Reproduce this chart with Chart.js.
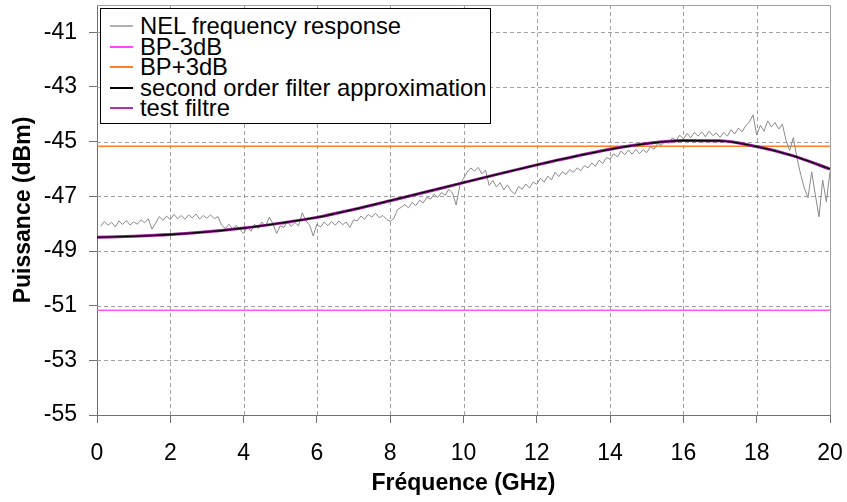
<!DOCTYPE html>
<html>
<head>
<meta charset="utf-8">
<script src="https://cdn.jsdelivr.net/npm/chart.js@4.4.1/dist/chart.umd.min.js"></script>
<style>
  html, body { margin:0; padding:0; background:#fff; overflow:hidden; }
  #wrap { position:relative; width:847px; height:502px; }
  canvas { display:block; }
  #legend { position:absolute; left:100px; top:8px; width:391px; height:116px; border:1px solid #000; background:#fff;
    font-family:"Liberation Sans", Arial, sans-serif; font-size:23.8px; color:#000; box-sizing:border-box; }
  .item { position:absolute; left:0; height:24px; line-height:24px; white-space:nowrap; }
  .item .sw { position:absolute; left:9px; top:11px; width:23px; height:2px; }
  .item .tx { position:absolute; left:39px; top:0; }
</style>
</head>
<body>
<div id="wrap">
  <canvas id="c" width="847" height="502"></canvas>
  <div id="legend"></div>
</div>
<script>
// ---- data ----
const xTickValues = [0, 2, 4, 6, 8, 10, 12, 14, 16, 18, 20];
const yTickValues = [-55, -53, -51, -49, -47, -45, -43, -41];

const nelStart = 0.1;   // GHz, first sample
const nelStep = 0.1;    // GHz between samples
const nelValues = [
  -48.10, -47.92, -48.06, -47.95, -48.12, -47.90, -48.03, -47.88, -48.05, -47.93,
  -48.02, -47.86, -47.97, -47.82, -48.20, -47.98, -47.74, -47.88, -47.72, -47.85,
  -47.66, -47.82, -47.70, -47.84, -47.68, -47.79, -47.65, -47.83, -47.70, -47.80,
  -47.68, -47.82, -47.74, -48.05, -48.18, -48.02, -48.20, -48.06, -48.22, -48.36,
  -48.12, -48.28, -48.02, -48.18, -47.94, -48.10, -47.76, -48.00, -48.36, -48.08,
  -48.14, -47.92, -48.10, -47.96, -48.08, -47.60, -47.90, -48.05, -48.45, -48.02,
  -48.12, -47.94, -48.08, -47.92, -48.06, -47.90, -48.04, -47.94, -48.14, -47.86,
  -47.90, -47.72, -47.84, -47.66, -47.76, -47.62, -47.78, -47.70, -47.84, -47.92,
  -47.80, -47.48, -47.40, -47.30, -47.42, -47.22, -47.34, -47.14, -47.24, -47.04,
  -47.10, -46.92, -47.04, -46.86, -46.96, -46.74, -46.88, -47.32, -46.60, -46.35,
  -46.12, -45.96, -46.08, -45.94, -46.18, -46.04, -46.60, -46.42, -46.66, -46.50,
  -46.76, -46.58, -46.80, -46.92, -46.64, -46.74, -46.55, -46.70, -46.48, -46.56,
  -46.34, -46.48, -46.26, -46.40, -46.12, -46.28, -46.10, -46.20, -46.02, -46.12,
  -45.96, -46.06, -45.88, -45.96, -45.78, -45.90, -45.68, -45.80, -45.58, -45.64,
  -45.44, -45.56, -45.34, -45.48, -45.30, -45.46, -45.28, -45.44, -45.30, -45.40,
  -45.18, -45.28, -45.06, -45.14, -44.94, -45.06, -44.86, -44.96, -44.76, -44.90,
  -44.70, -44.86, -44.66, -44.80, -44.64, -44.82, -44.62, -44.78, -44.68, -44.84,
  -44.66, -44.80, -44.56, -44.72, -44.50, -44.64, -44.42, -44.28, -44.02, -44.76,
  -44.40, -44.62, -44.24, -44.46, -44.30, -44.54, -44.36, -44.95, -45.32, -44.85,
  -45.60, -46.20, -46.70, -47.05, -46.10, -46.95, -47.75, -46.40, -47.20, -46.10
];

const fitFreq = [0, 1, 2, 3, 4, 5, 6, 7, 8, 9, 10, 11, 12, 13, 14, 15, 16, 17, 18, 19, 20];
const fitValues = [-48.50, -48.46, -48.40, -48.30, -48.16, -47.98, -47.77, -47.48, -47.16, -46.83,
  -46.50, -46.17, -45.85, -45.55, -45.28, -45.07, -44.96, -44.97, -45.18, -45.52, -46.00];
const testValues = [-48.50, -48.46, -48.40, -48.30, -48.16, -47.98, -47.77, -47.48, -47.16, -46.83,
  -46.50, -46.17, -45.85, -45.55, -45.28, -45.07, -44.96, -44.97, -45.18, -45.52, -46.00];

const bandFreq = [0, 20];
const bpMinusValues = [-51.17, -51.17];
const bpPlusValues = [-45.17, -45.17];

const seriesNames = ['NEL frequency response', 'BP-3dB', 'BP+3dB', 'second order filter approximation', 'test filtre'];

// ---- build ----
const FONT = '"Liberation Sans", Arial, sans-serif';
const toXY = (xs, ys) => ys.map((y, i) => ({ x: xs[i], y }));
const nelPts = nelValues.map((y, i) => ({ x: +(nelStart + i * nelStep).toFixed(2), y }));

const legendColors = ['#b0b0b0', '#ff44ff', '#ff7f27', '#000000', '#b030b0'];

const datasets = [
  { label: seriesNames[0], data: nelPts, borderColor: '#8a8a8a', borderWidth: 1, order: 3 },
  { label: seriesNames[1], data: toXY(bandFreq, bpMinusValues), borderColor: '#ff55ff', borderWidth: 1.5, order: 4 },
  { label: seriesNames[2], data: toXY(bandFreq, bpPlusValues), borderColor: '#ff7f27', borderWidth: 1.5, order: 4 },
  { label: seriesNames[3], data: toXY(fitFreq, fitValues), borderColor: '#000000', borderWidth: 1.2, cubicInterpolationMode: 'monotone', order: 1 },
  { label: seriesNames[4], data: toXY(fitFreq, testValues), borderColor: '#9a1a9a', borderWidth: 3, cubicInterpolationMode: 'monotone', order: 2 }
];
datasets.forEach(d => { d.pointRadius = 0; d.fill = false; });

// dashed grid + light frame, positioned through the chart's own scales
const frame = {
  id: 'frame',
  beforeDatasetsDraw(chart) {
    const a = chart.chartArea, ctx = chart.ctx;
    const xs = chart.scales.x, ys = chart.scales.y;
    ctx.save();
    ctx.strokeStyle = '#a0a0a0';
    ctx.lineWidth = 1;
    ctx.setLineDash([4, 3]);
    ctx.beginPath();
    xTickValues.forEach(v => {
      if (v === xs.min || v === xs.max) return;
      const px = Math.round(xs.getPixelForValue(v)) + 0.5;
      ctx.moveTo(px, a.top); ctx.lineTo(px, a.bottom);
    });
    yTickValues.forEach(v => {
      if (v === ys.min || v === ys.max) return;
      const py = Math.round(ys.getPixelForValue(v)) + 0.5;
      ctx.moveTo(a.left, py); ctx.lineTo(a.right, py);
    });
    ctx.stroke();
    ctx.setLineDash([]);
    ctx.beginPath();
    ctx.moveTo(a.left, Math.round(a.top) + 0.5); ctx.lineTo(Math.round(a.right) + 0.5, Math.round(a.top) + 0.5);
    ctx.lineTo(Math.round(a.right) + 0.5, a.bottom);
    ctx.stroke();
    ctx.restore();
  }
};

const axisCommon = {
  type: 'linear',
  grid: { drawOnChartArea: false, drawTicks: true, tickLength: 8, tickColor: '#707070', tickWidth: 1 },
  border: { display: true, color: '#707070', width: 1 },
};

new Chart(document.getElementById('c'), {
  type: 'line',
  data: { datasets },
  options: {
    responsive: false,
    animation: false,
    layout: { autoPadding: false, padding: { left: 0, right: 17, top: 5, bottom: 0 } },
    plugins: { legend: { display: false }, tooltip: { enabled: false } },
    scales: {
      x: Object.assign({}, axisCommon, {
        min: 0, max: 20,
        afterBuildTicks: s => { s.ticks = xTickValues.map(v => ({ value: v })); },
        afterFit: s => { s.height = 87; s.paddingLeft = 0; s.paddingRight = 0; },
        ticks: { font: { family: FONT, size: 23 }, color: '#000', padding: 17, maxRotation: 0, autoSkip: false },
        title: { display: true, text: 'Fréquence (GHz)', color: '#000', font: { family: FONT, size: 23, weight: 'bold' }, padding: { top: 0, bottom: 5 } }
      }),
      y: Object.assign({}, axisCommon, {
        min: -55, max: -40,
        afterBuildTicks: s => { s.ticks = yTickValues.map(v => ({ value: v })); },
        afterFit: s => { s.width = 97; s.paddingTop = 0; s.paddingBottom = 0; },
        ticks: { font: { family: FONT, size: 23 }, color: '#000', padding: 12, autoSkip: false },
        title: { display: true, text: 'Puissance (dBm)', color: '#000', font: { family: FONT, size: 23, weight: 'bold' }, padding: { top: 10, bottom: 0 } }
      })
    }
  },
  plugins: [frame]
});

// legend
const lg = document.getElementById('legend');
seriesNames.forEach((name, i) => {
  const it = document.createElement('div');
  it.className = 'item';
  it.style.top = Math.round(17 + 20.6 * i - 12) + 'px';
  const sw = document.createElement('span');
  sw.className = 'sw';
  sw.style.backgroundColor = legendColors[i];
  const tx = document.createElement('span');
  tx.className = 'tx';
  tx.textContent = name;
  it.appendChild(sw); it.appendChild(tx);
  lg.appendChild(it);
});
</script>
</body>
</html>
